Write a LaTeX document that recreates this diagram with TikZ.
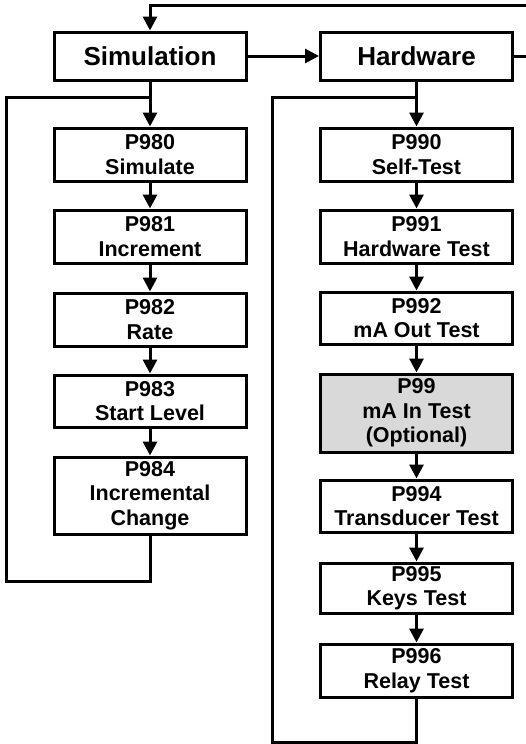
\documentclass[tikz,border=0pt]{standalone}
\usepackage{fontspec}
\setmainfont{Liberation Sans}
\usetikzlibrary{arrows.meta}
\definecolor{optgray}{RGB}{217,217,217}
\begin{document}
\begin{tikzpicture}[x=1pt,y=-1pt,
  box/.style={draw,line width=3pt,fill=white,inner sep=0pt,align=center,
    font=\bfseries\fontsize{21.5}{24.5}\selectfont,minimum width=192pt},
  head/.style={draw,line width=3pt,fill=white,inner sep=0pt,align=center,
    font=\bfseries\fontsize{26}{30}\selectfont,minimum width=192pt,minimum height=48pt},
  ln/.style={line width=3pt},
  arr/.style={line width=3pt,-{Triangle[length=14pt,width=14pt]}}]
\useasboundingbox (0,0) rectangle (525,744);
% headers
\node[head] (sim) at (150,56) {Simulation};
\node[head] (hw) at (416.5,56) {Hardware};
% left column
\node[box,minimum height=53pt] (p980) at (150,154.5) {P980\\Simulate};
\node[box,minimum height=53pt] (p981) at (150,236.5) {P981\\Increment};
\node[box,minimum height=53pt] (p982) at (150,319.5) {P982\\Rate};
\node[box,minimum height=52pt] (p983) at (150,401) {P983\\Start Level};
\node[box,minimum height=77pt] (p984) at (150,495.5) {P984\\Incremental\\Change};
% right column
\node[box,minimum height=53pt] (p990) at (416.5,154.5) {P990\\Self-Test};
\node[box,minimum height=53pt] (p991) at (416.5,236.5) {P991\\Hardware Test};
\node[box,minimum height=52pt] (p992) at (416.5,318) {P992\\mA Out Test};
\node[box,minimum height=78pt,fill=optgray] (p99) at (416.5,413) {P99\\mA In Test\\(Optional)};
\node[box,minimum height=52pt] (p994) at (416.5,506) {P994\\Transducer Test};
\node[box,minimum height=50pt] (p995) at (416.5,588) {P995\\Keys Test};
\node[box,minimum height=53pt] (p996) at (416.5,670.5) {P996\\Relay Test};
% coordinates
\coordinate (tr) at (530,5);
\coordinate (tl) at (150,5);
\coordinate (hr) at (530,56);
\coordinate (lj) at (150,97);
\coordinate (lt) at (6,97);
\coordinate (lb) at (6,581);
\coordinate (rj) at (416.5,97);
\coordinate (rt) at (272,97);
\coordinate (rb) at (272,742);
% connectors
\draw[arr] (tr) -- (tl) -- (sim.north);
\draw[arr] (sim.east) -- (hw.west);
\draw[ln] (hw.east) -- (hr);
\draw[arr] (sim.south) -- (p980.north);
\draw[arr] (p980.south) -- (p981.north);
\draw[arr] (p981.south) -- (p982.north);
\draw[arr] (p982.south) -- (p983.north);
\draw[arr] (p983.south) -- (p984.north);
\draw[ln] (p984.south) |- (lb) -- (lt) -- (lj);
\draw[arr] (hw.south) -- (p990.north);
\draw[arr] (p990.south) -- (p991.north);
\draw[arr] (p991.south) -- (p992.north);
\draw[arr] (p992.south) -- (p99.north);
\draw[arr] (p99.south) -- (p994.north);
\draw[arr] (p994.south) -- (p995.north);
\draw[arr] (p995.south) -- (p996.north);
\draw[ln] (p996.south) |- (rb) -- (rt) -- (rj);
\end{tikzpicture}
\end{document}
